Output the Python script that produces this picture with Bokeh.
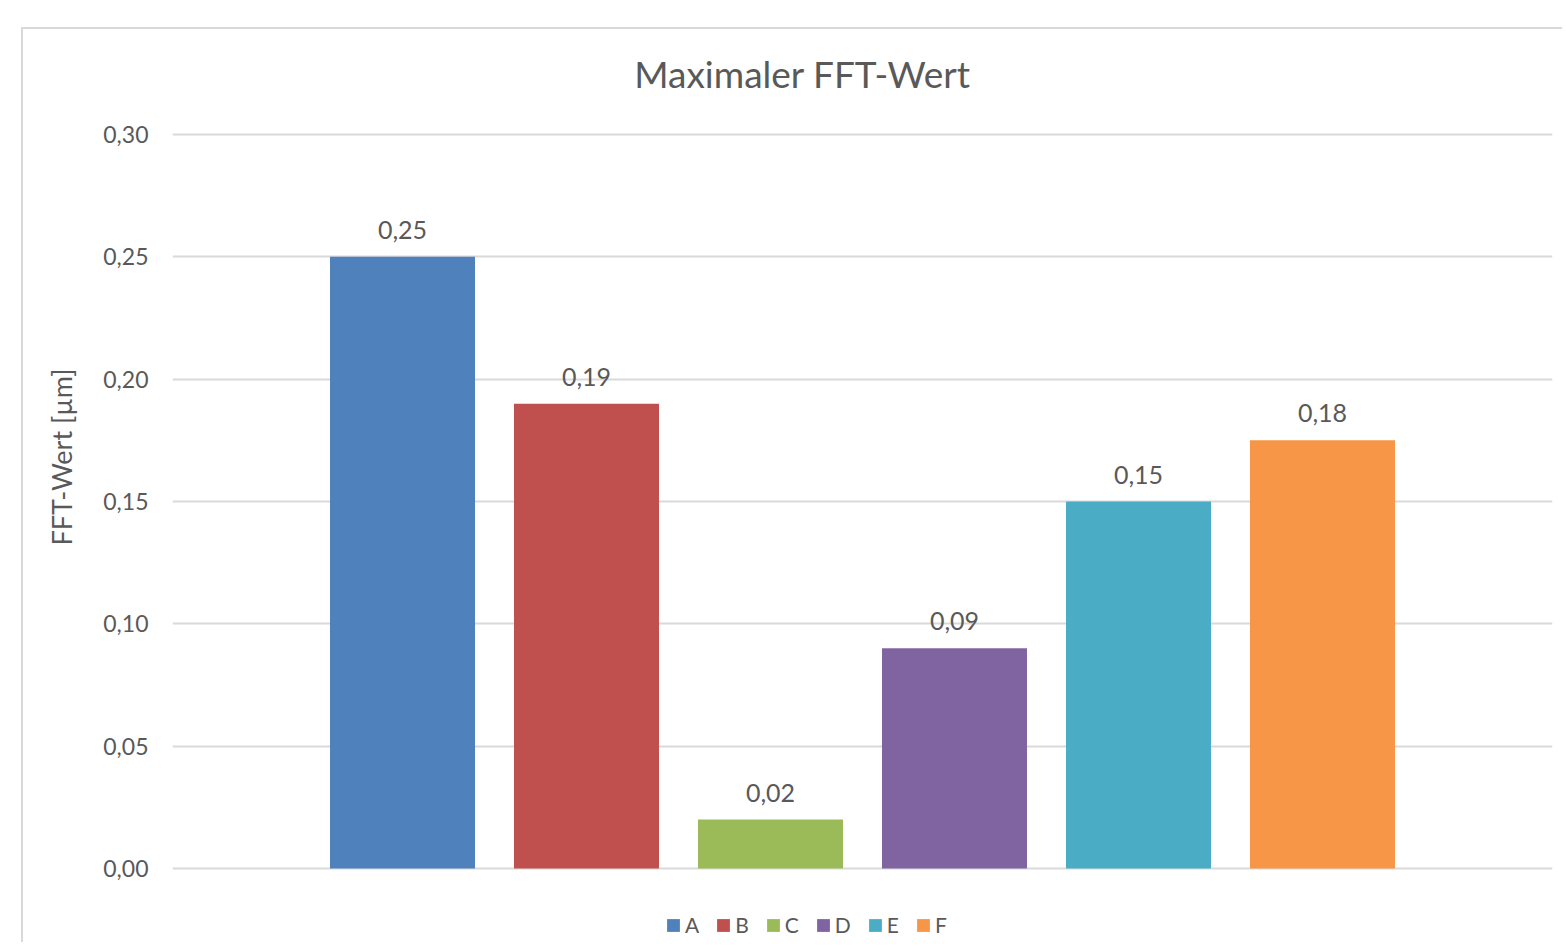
from bokeh.plotting import figure
from bokeh.models import (ColumnDataSource, Range1d, LabelSet, Label, Legend, LegendItem,
                          CustomJSTickFormatter, FixedTicker, Title)
from bokeh.core.properties import value
from bokeh.embed import file_html
from bokeh.resources import INLINE

# ---- data ----
categories = ["A", "B", "C", "D", "E", "F"]
values = [0.25, 0.19, 0.02, 0.09, 0.15, 0.175]
value_labels = ["0,25", "0,19", "0,02", "0,09", "0,15", "0,18"]
colors = ["#4F81BD", "#C0504D", "#9BBB59", "#8064A2", "#4BACC6", "#F79646"]
y_ticks = [0.0, 0.05, 0.10, 0.15, 0.20, 0.25, 0.30]
title_text = "Maximaler FFT-Wert"
y_label_text = "FFT-Wert [µm]"

FONT = "Lato"
TXT = "#595959"

# layout: plot area spans 0..0.30 over 734 px; extra room above/below for title & legend
PX_PER_UNIT = 734 / 0.30
Y_START = -76 / PX_PER_UNIT
Y_END = 0.30 + 105 / PX_PER_UNIT

source = ColumnDataSource(dict(
    x=list(range(len(categories))),
    top=values,
    cat=categories,
    color=colors,
    label=value_labels,
))

p = figure(
    width=1541, height=915,
    output_backend="svg", toolbar_location=None,
    x_range=Range1d(-1.25, len(categories) + 0.25),
    y_range=Range1d(Y_START, Y_END),
    min_border_left=149, min_border_top=0, min_border_right=12, min_border_bottom=0,
    margin=(27, 0, 0, 21),
    styles={"border-left": "2px solid #d9d9d9", "border-top": "2px solid #d9d9d9"},
)
p.outline_line_color = None
p.background_fill_color = "white"
p.border_fill_color = "white"

r = p.vbar(x="x", top="top", width=0.788, source=source,
           fill_color="color", line_color=None)

p.xaxis.visible = False
p.xgrid.grid_line_color = None
p.ygrid.grid_line_color = "#d9d9d9"
p.ygrid.grid_line_width = 2

yax = p.yaxis[0]
yax.ticker = FixedTicker(ticks=y_ticks)
yax.formatter = CustomJSTickFormatter(code="return tick.toFixed(2).replace('.', ',');")
yax.axis_line_color = None
yax.major_tick_line_color = None
yax.minor_tick_line_color = None
yax.major_tick_in = 0
yax.major_tick_out = 0
yax.major_label_standoff = 24
yax.major_label_text_font = FONT
yax.major_label_text_font_size = "23px"
yax.major_label_text_color = TXT

labels = LabelSet(x="x", y="top", text="label", source=source,
                  text_align="center", text_baseline="alphabetic", y_offset=18,
                  text_font=value(FONT), text_font_size=value("25px"), text_color=value(TXT))
p.add_layout(labels)

title = Label(x=630, y=871, x_units="screen", y_units="screen", text=title_text,
              text_align="center", text_baseline="alphabetic",
              text_font=FONT, text_font_size="37px", text_color=TXT)
p.add_layout(title)

ylab = Title(text=y_label_text, align="left", vertical_align="top", offset=399, standoff=42,
             text_font=FONT, text_font_size="27px", text_color=TXT,
             text_font_style="normal")
p.add_layout(ylab, "left")

legend = Legend(
    items=[LegendItem(label=categories[i], renderers=[r], index=i) for i in range(len(categories))],
    location=(493, 7), orientation="horizontal",
    glyph_width=16, glyph_height=16, label_standoff=4, spacing=16,
    padding=0, margin=0, border_line_color=None, background_fill_alpha=0,
    label_text_font=FONT, label_text_font_size="21px", label_text_color=TXT,
    label_height=16, label_width=5,
)
p.add_layout(legend)

open("out.html", "w").write(file_html(p, INLINE))
